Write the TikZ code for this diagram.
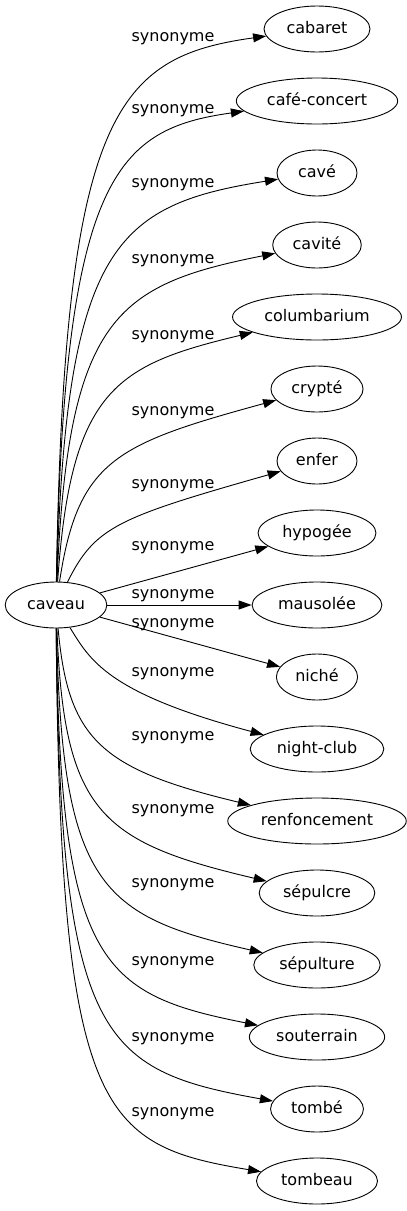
\documentclass[tikz,border=0pt]{standalone}
\usepackage{fontspec}
\setmainfont{DejaVu Sans}
\usetikzlibrary{arrows.meta,shapes.geometric}

\begin{document}
\begin{tikzpicture}[x=1pt,y=-1pt,
    word/.style={draw, ellipse, line width=0.9pt, inner xsep=7pt, inner ysep=0pt,
        minimum width=80pt, minimum height=46pt, text height=11.5pt, text depth=3.5pt,
        font=\fontsize{16pt}{19pt}\selectfont},
    rel/.style={inner sep=0pt, text height=11.5pt, text depth=3.5pt,
        font=\fontsize{16pt}{19pt}\selectfont},
    syn/.style={line width=0.9pt, -{Triangle[length=13pt,width=9pt]}}]
                        \useasboundingbox (0,0) rectangle (407,1211);
                        \node[word] (caveau) at (56,605) {caveau};
                        \node[word] (cabaret) at (317,29) {cabaret};
                        \node[word] (cafeconcert) at (317,101) {café-concert};
                        \node[word] (cave) at (317,173) {cavé};
                        \node[word] (cavite) at (317,245) {cavité};
                        \node[word] (columbarium) at (317,317) {columbarium};
                        \node[word] (crypte) at (317,389) {crypté};
                        \node[word] (enfer) at (317,461) {enfer};
                        \node[word] (hypogee) at (317,533) {hypogée};
                        \node[word] (mausolee) at (317,605) {mausolée};
                        \node[word] (niche) at (317,677) {niché};
                        \node[word] (nightclub) at (317,749) {night-club};
                        \node[word] (renfoncement) at (317,821) {renfoncement};
                        \node[word] (sepulcre) at (317,893) {sépulcre};
                        \node[word] (sepulture) at (317,965) {sépulture};
                        \node[word] (souterrain) at (317,1037) {souterrain};
                        \node[word] (tombe) at (317,1109) {tombé};
                        \node[word] (tombeau) at (317,1181) {tombeau};
                        \node[rel] (lcabaret) at (173,37) {synonyme};
                        \node[rel] (lcafeconcert) at (173,109) {synonyme};
                        \node[rel] (lcave) at (173,183) {synonyme};
                        \node[rel] (lcavite) at (173,259) {synonyme};
                        \node[rel] (lcolumbarium) at (173,335) {synonyme};
                        \node[rel] (lcrypte) at (173,411) {synonyme};
                        \node[rel] (lenfer) at (173,484) {synonyme};
                        \node[rel] (lhypogee) at (173,546) {synonyme};
                        \node[rel] (lmausolee) at (173,594) {synonyme};
                        \node[rel] (lniche) at (173,623) {synonyme};
                        \node[rel] (lnightclub) at (173,672) {synonyme};
                        \node[rel] (lrenfoncement) at (173,736) {synonyme};
                        \node[rel] (lsepulcre) at (173,809) {synonyme};
                        \node[rel] (lsepulture) at (173,883) {synonyme};
                        \node[rel] (lsouterrain) at (173,961) {synonyme};
                        \node[rel] (ltombe) at (173,1037) {synonyme};
                        \node[rel] (ltombeau) at (173,1112) {synonyme};
                        \draw[syn] (caveau) .. controls (64,112) and (116,57) .. (cabaret);
                        \draw[syn] (caveau) .. controls (64,177) and (116,129) .. (cafeconcert);
                        \draw[syn] (caveau) .. controls (66,245) and (116,205) .. (cave);
                        \draw[syn] (caveau) .. controls (68,317) and (116,285) .. (cavite);
                        \draw[syn] (caveau) .. controls (71,389) and (116,365) .. (columbarium);
                        \draw[syn] (caveau) .. controls (78,460) and (116,444) .. (crypte);
                        \draw[syn] (caveau) .. controls (95,527) and (116,518) .. (enfer);
                        \draw[syn] (caveau) -- (hypogee);
                        \draw[syn] (caveau) -- (mausolee);
                        \draw[syn] (caveau) -- (niche);
                        \draw[syn] (caveau) .. controls (90,660) and (107,693) .. (nightclub);
                        \draw[syn] (caveau) .. controls (68,739) and (100,769) .. (renfoncement);
                        \draw[syn] (caveau) .. controls (64,812) and (100,842) .. (sepulcre);
                        \draw[syn] (caveau) .. controls (62,886) and (100,916) .. (sepulture);
                        \draw[syn] (caveau) .. controls (60,964) and (100,994) .. (souterrain);
                        \draw[syn] (caveau) .. controls (60,1040) and (100,1070) .. (tombe);
                        \draw[syn] (caveau) .. controls (60,1115) and (100,1145) .. (tombeau);
                    \end{tikzpicture}
\end{document}
